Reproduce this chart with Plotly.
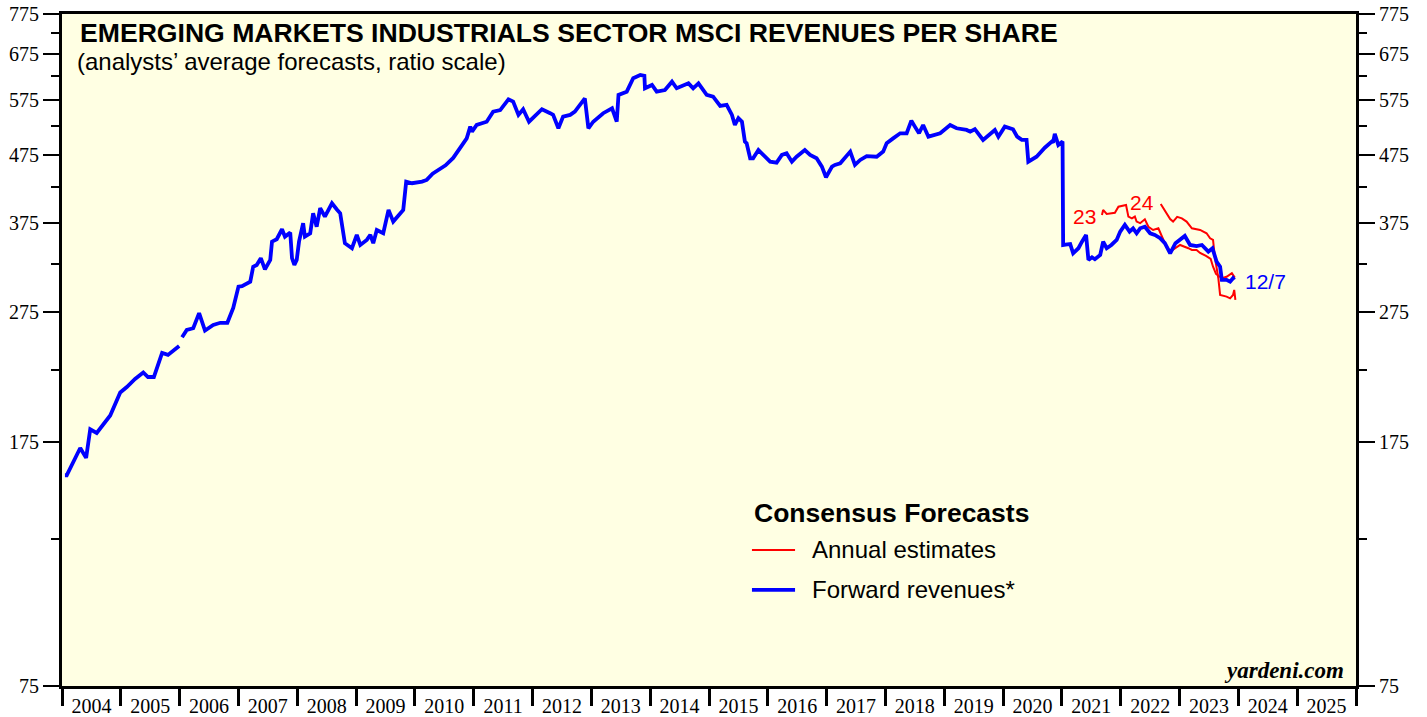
import plotly.graph_objects as go
import pandas as pd
import math

# ---------------- data ----------------
fwd_years = [
    2004.05, 2004.08, 2004.31, 2004.41, 2004.48, 2004.59, 2004.82, 2004.99, 2005.10, 2005.24,
    2005.38, 2005.46, 2005.56, 2005.70, 2005.80, 2005.99, None,
    2006.04, 2006.12, 2006.23, 2006.33, 2006.43, 2006.57, 2006.69, 2006.81, 2006.91,
    2007.00, 2007.06, 2007.20, 2007.25, 2007.31, 2007.38, 2007.45, 2007.54, 2007.57, 2007.65,
    2007.74, 2007.79, 2007.88, 2007.91, 2007.95, 2007.99, 2008.03, 2008.10, 2008.13, 2008.22,
    2008.27, 2008.33, 2008.39, 2008.47, 2008.59, 2008.67, 2008.73, 2008.81, 2008.93, 2009.01,
    2009.07, 2009.18, 2009.24, 2009.29, 2009.35, 2009.46, 2009.55, 2009.63, 2009.80, 2009.85,
    2009.95, 2010.12, 2010.20, 2010.30, 2010.42, 2010.52, 2010.65, 2010.77, 2010.88, 2010.94,
    2010.97, 2011.05, 2011.22, 2011.33, 2011.45, 2011.59, 2011.67, 2011.76, 2011.84, 2011.94,
    2012.07, 2012.16, 2012.30, 2012.35, 2012.44, 2012.52, 2012.64, 2012.72, 2012.89, 2012.95,
    2013.03, 2013.20, 2013.35, 2013.43, 2013.46, 2013.60, 2013.71, 2013.83, 2013.90, 2013.91,
    2014.03, 2014.11, 2014.25, 2014.37, 2014.45, 2014.65, 2014.73, 2014.82, 2014.96, 2015.07,
    2015.19, 2015.30, 2015.39, 2015.44, 2015.50, 2015.56, 2015.61, 2015.64, 2015.70, 2015.75,
    2015.84, 2015.92, 2016.04, 2016.15, 2016.24, 2016.32, 2016.41, 2016.49, 2016.63, 2016.72,
    2016.83, 2016.92, 2016.99, 2017.09, 2017.14, 2017.23, 2017.40, 2017.48, 2017.57, 2017.68,
    2017.85, 2017.96, 2018.02, 2018.13, 2018.25, 2018.36, 2018.44, 2018.50, 2018.57, 2018.64,
    2018.73, 2018.93, 2019.10, 2019.21, 2019.38, 2019.44, 2019.52, 2019.66, 2019.86, 2019.92,
    2020.03, 2020.17, 2020.24, 2020.32, 2020.40, 2020.43, 2020.57, 2020.71, 2020.83, 2020.85,
    2020.88, 2020.94, 2021.01, 2021.02, 2021.14, 2021.19, 2021.28, 2021.34, 2021.41, 2021.45,
    2021.51, 2021.56, 2021.65, 2021.70, 2021.76, 2021.84, 2021.93, 2021.99, 2022.07, 2022.15,
    2022.21, 2022.27, 2022.33, 2022.41, 2022.50, 2022.58, 2022.67, 2022.75, 2022.84, 2022.93,
    2023.01, 2023.09, 2023.18, 2023.29, 2023.38, 2023.49, 2023.56, 2023.63, 2023.69, 2023.72,
    2023.80, 2023.86, 2023.91, 2023.93,
]
fwd_values = [
    156, 156, 171.5, 165.7, 183, 180.7, 192, 208, 212, 218,
    223, 219.5, 219.5, 238.6, 237, 244.5, None,
    252, 258.5, 260, 274, 258, 263, 265, 265, 279,
    300.5, 301, 305.7, 322, 324, 331.7, 319, 329.7, 351.3, 354.3,
    366.8, 357.5, 362.5, 331.7, 324, 329.7, 351.3, 374.6, 357.5, 361.7,
    387.8, 370, 394.6, 383.3, 401.5, 393.2, 387.8, 349.4, 343.4, 359.6,
    347.3, 353.5, 359.6, 349.4, 365.9, 361.7, 392.3, 376.7, 392.3, 432.8,
    430.4, 432.8, 435.4, 445, 452, 458, 470, 486, 503, 524,
    515, 527, 533, 552, 555, 576, 571.6, 545.8, 556.7, 533,
    545.8, 556.7, 549, 545.8, 521, 542.5, 545.8, 552, 578, 521,
    533, 549, 558.5, 533, 585, 591.7, 620, 627, 625, 598.7,
    605.6, 591.7, 595, 612.6, 598.7, 609, 598.7, 609, 585, 581.6,
    563, 565, 545.8, 527, 539.5, 533, 497.4, 494.6, 469.4, 469.4,
    483, 475, 463.9, 462.3, 475, 477.7, 463.9, 472, 483, 475,
    469.4, 456, 439.5, 456, 458.7, 461.4, 480.4, 458.7, 466.7, 473,
    472, 480.4, 494.6, 503, 512, 512, 535, 524, 512, 527,
    506, 512, 527, 521, 518, 515, 519.3, 500.3, 518, 506,
    524, 519.3, 506, 500.3, 500.3, 463.9, 472, 487, 497.4, 495.6,
    511, 491.6, 497.4, 347.3, 348.5, 337.4, 343.4, 351.3, 359.6, 329.7,
    332.8, 330.5, 335.4, 351.3, 343.4, 347.3, 353.5, 363.8, 372.4, 363.8,
    368, 361.7, 368, 370, 361.7, 359.6, 355.5, 349.4, 337.4, 349.4,
    353.5, 358.4, 347.3, 346, 347.3, 339.3, 343.4, 327.7, 322, 307.6,
    307.6, 305.7, 309.4, 307.6,
]

est23_years = [
    2021.68, 2021.70, 2021.76, 2021.84, 2021.90, 2021.96, 2022.04, 2022.09, 2022.13, 2022.19,
    2022.24, 2022.27, 2022.33, 2022.41, 2022.47, 2022.55, 2022.64, 2022.69, 2022.75, 2022.84,
    2022.93, 2023.01, 2023.15, 2023.21, 2023.29, 2023.35, 2023.45, 2023.53, 2023.57, 2023.62,
    2023.72, 2023.80, 2023.89, 2023.94,
]
est23_values = [
    385.5, 392.3, 386.9, 388, 388.5, 396.7, 397.8, 399, 383.3, 381,
    383.3, 376.7, 374.6, 379.8, 370, 365.9, 368, 359.6, 349.4, 339.3,
    343.4, 347.3, 343.4, 341.3, 341.3, 337.8, 334.3, 330.8, 322, 314,
    309.4, 311, 314.9, 310,
]

est24_years = [
    2022.68, 2022.72, 2022.78, 2022.84, 2022.89, 2022.96, 2023.04, 2023.12, 2023.21, 2023.28,
    2023.35, 2023.46, 2023.52, 2023.57, 2023.60, 2023.66, 2023.69, 2023.80, 2023.86, 2023.91,
    2023.93, 2023.95,
]
est24_values = [
    400.5, 394.9, 387.8, 380.1, 376.7, 382.9, 381, 376.7, 368, 367.1,
    365.9, 361.7, 355.5, 353.5, 333.5, 309.4, 291.9, 290.2, 288.5, 291.9,
    297, 287,
]

major_ticks = [75, 175, 275, 375, 475, 575, 675, 775]
minor_ticks = [125, 225, 325, 425, 525, 625, 725]


def to_dates(years):
    out = []
    for y in years:
        if y is None:
            out.append(None)
        else:
            yr = int(y)
            out.append(pd.Timestamp(f"{yr}-01-01") + pd.Timedelta(days=(y - yr) * 365.25))
    return out


BG = "#FFFFE3"
SERIF = "Liberation Serif, Times New Roman, serif"
SANS = "Liberation Sans, Arial, sans-serif"
XRANGE = ["2004-01-01", "2026-01-01"]

fig = go.Figure()
fig.add_trace(go.Scatter(x=to_dates(est23_years), y=est23_values, mode="lines",
                         line=dict(color="#FF0000", width=2), showlegend=False))
fig.add_trace(go.Scatter(x=to_dates(est24_years), y=est24_values, mode="lines",
                         line=dict(color="#FF0000", width=2), showlegend=False))
fig.add_trace(go.Scatter(x=to_dates(fwd_years), y=fwd_values, mode="lines",
                         line=dict(color="#0000FF", width=3.8), showlegend=False,
                         connectgaps=False))
# invisible trace to activate the right-hand axis and the label axis
fig.add_trace(go.Scatter(x=[pd.Timestamp("2010-01-01")], y=[300], xaxis="x2", yaxis="y2",
                         mode="markers", marker=dict(opacity=0), showlegend=False,
                         hoverinfo="skip"))

yr = [math.log10(75), math.log10(775)]

yaxis_common = dict(
    type="log", range=yr, tickmode="array", tickvals=major_ticks,
    ticktext=[str(v) for v in major_ticks], ticks="outside", ticklen=16,
    tickwidth=1.5, tickcolor="black", showgrid=False, zeroline=False,
    showline=True, linecolor="black", linewidth=3, automargin=False,
    tickfont=dict(family=SERIF, size=20, color="black"),
    minor=dict(tickvals=minor_ticks, ticks="outside", ticklen=8,
               tickwidth=1.5, tickcolor="black", showgrid=False),
)

fig.update_layout(
    width=1427, height=717,
    margin=dict(l=62, r=71, t=14, b=31),
    paper_bgcolor="white", plot_bgcolor=BG,
    # axis carrying the year-boundary tick marks and the frame
    xaxis=dict(
        type="date", range=XRANGE, automargin=False,
        dtick="M12", tick0="2004-01-01", showticklabels=False,
        ticks="outside", ticklen=17, tickwidth=2.5, tickcolor="black",
        showgrid=False, zeroline=False, showline=True, linecolor="black",
        linewidth=3, mirror=True,
    ),
    # axis carrying the year labels centred in each year
    xaxis2=dict(
        type="date", range=XRANGE, automargin=False, overlaying="x", side="bottom",
        tickformat="%Y", dtick="M12", tick0="2004-01-01", ticklabelmode="period",
        ticks="outside", ticklen=2, tickcolor="rgba(0,0,0,0)",
        showgrid=False, zeroline=False, showline=False,
        tickfont=dict(family=SERIF, size=20, color="black"),
    ),
    yaxis=dict(side="left", **yaxis_common),
    yaxis2=dict(side="right", overlaying="y", **yaxis_common),
    showlegend=False,
)

# titles
fig.add_annotation(xref="paper", yref="paper", x=0.0124, y=0.9717, xanchor="left", yanchor="middle",
                   text="<b>EMERGING MARKETS INDUSTRIALS SECTOR MSCI REVENUES PER SHARE</b>",
                   showarrow=False, font=dict(family=SANS, size=26.6, color="black"))
fig.add_annotation(xref="paper", yref="paper", x=0.0100, y=0.9286, xanchor="left", yanchor="middle",
                   text="(analysts’ average forecasts, ratio scale)",
                   showarrow=False, font=dict(family=SANS, size=24, color="black"))

# series labels
fig.add_annotation(x=to_dates([2021.375])[0], y=math.log10(383), text="23", showarrow=False,
                   font=dict(family=SANS, size=21, color="#FF0000"))
fig.add_annotation(x=to_dates([2022.36])[0], y=math.log10(402), text="24", showarrow=False,
                   font=dict(family=SANS, size=21, color="#FF0000"))
fig.add_annotation(x=to_dates([2024.08])[0], y=math.log10(305.7), text="12/7", showarrow=False,
                   xanchor="left", font=dict(family=SANS, size=21, color="#0000FF"))

# legend block
fig.add_annotation(xref="paper", yref="paper", x=0.5332, y=0.2574, xanchor="left", yanchor="middle",
                   text="<b>Consensus Forecasts</b>", showarrow=False,
                   font=dict(family=SANS, size=26.5, color="black"))
fig.add_shape(type="line", xref="paper", yref="paper", x0=0.5332, x1=0.5665,
              y0=0.2024, y1=0.2024, line=dict(color="#FF0000", width=2))
fig.add_annotation(xref="paper", yref="paper", x=0.578, y=0.2024, xanchor="left", yanchor="middle",
                   text="Annual estimates", showarrow=False,
                   font=dict(family=SANS, size=24, color="black"))
fig.add_shape(type="line", xref="paper", yref="paper", x0=0.5332, x1=0.5665,
              y0=0.1429, y1=0.1429, line=dict(color="#0000FF", width=3.8))
fig.add_annotation(xref="paper", yref="paper", x=0.578, y=0.1429, xanchor="left", yanchor="middle",
                   text="Forward revenues*", showarrow=False,
                   font=dict(family=SANS, size=24, color="black"))

fig.add_annotation(xref="paper", yref="paper", x=0.9923, y=0.0238, xanchor="right", yanchor="middle",
                   text="<b><i>yardeni.com</i></b>", showarrow=False,
                   font=dict(family=SERIF, size=23, color="black"))

fig.write_html("out.html", config={"displayModeBar": False},
               post_script="document.body.style.margin='0';document.body.style.overflow='hidden';")
